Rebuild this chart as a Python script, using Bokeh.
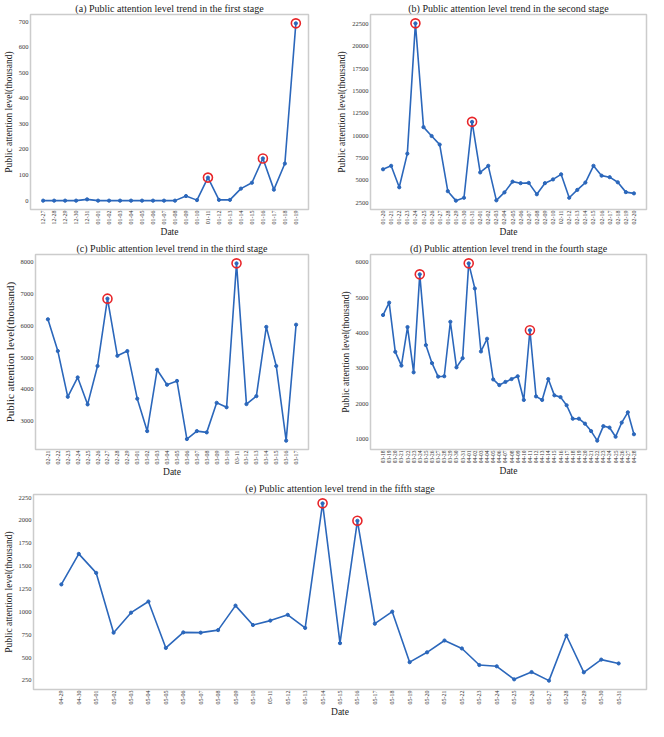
import math
from bokeh.plotting import figure
from bokeh.models import FactorRange, SingleIntervalTicker, ColumnDataSource, DataRange1d
from bokeh.layouts import column, row
from bokeh.embed import file_html
from bokeh.resources import INLINE

# ---------------- data ----------------
dates_a = ["12-27", "12-28", "12-29", "12-30", "12-31", "01-01", "01-02", "01-03",
           "01-04", "01-05", "01-06", "01-07", "01-08", "01-09", "01-10", "01-11",
           "01-12", "01-13", "01-14", "01-15", "01-16", "01-17", "01-18", "01-19"]
vals_a = [0, 0, 0, 0, 5, 0, 0, 0, 0, 0, 0, 0, 0, 18, 2, 90, 3, 3, 47, 70, 165, 43, 145, 693]
peaks_a = ["01-11", "01-16", "01-19"]

dates_b = ["01-20", "01-21", "01-22", "01-23", "01-24", "01-25", "01-26", "01-27",
           "01-28", "01-29", "01-30", "01-31", "02-01", "02-02", "02-03", "02-04",
           "02-05", "02-06", "02-07", "02-08", "02-09", "02-10", "02-11", "02-12",
           "02-13", "02-14", "02-15", "02-16", "02-17", "02-18", "02-19", "02-20"]
vals_b = [6250, 6640, 4240, 8000, 22550, 10960, 9970, 9010, 3810, 2750, 3070, 11550,
          5900, 6640, 2780, 3670, 4870, 4700, 4730, 3460, 4700, 5120, 5690, 3070,
          3950, 4770, 6640, 5540, 5370, 4800, 3700, 3560]
peaks_b = ["01-24", "01-31"]

dates_c = ["02-21", "02-22", "02-23", "02-24", "02-25", "02-26", "02-27", "02-28",
           "02-29", "03-01", "03-02", "03-03", "03-04", "03-05", "03-06", "03-07",
           "03-08", "03-09", "03-10", "03-11", "03-12", "03-13", "03-14", "03-15",
           "03-16", "03-17"]
vals_c = [6210, 5210, 3770, 4380, 3530, 4740, 6860, 5060, 5210, 3710, 2690, 4620,
          4150, 4270, 2440, 2690, 2650, 3580, 3440, 7970, 3540, 3790, 5970, 4740,
          2390, 6040]
peaks_c = ["02-27", "03-11"]

dates_d = ["03-18", "03-19", "03-20", "03-21", "03-22", "03-23", "03-24", "03-25",
           "03-26", "03-27", "03-28", "03-29", "03-30", "03-31", "04-01", "04-02",
           "04-03", "04-04", "04-05", "04-06", "04-07", "04-08", "04-09", "04-10",
           "04-11", "04-12", "04-13", "04-14", "04-15", "04-16", "04-17", "04-18",
           "04-19", "04-20", "04-21", "04-22", "04-23", "04-24", "04-25", "04-26",
           "04-27", "04-28"]
vals_d = [4510, 4860, 3470, 3080, 4170, 2890, 5660, 3660, 3150, 2770, 2780, 4320,
          3030, 3290, 5970, 5260, 3480, 3840, 2690, 2530, 2620, 2700, 2780, 2110,
          4080, 2210, 2110, 2700, 2240, 2190, 1960, 1580, 1580, 1440, 1230, 960,
          1370, 1330, 1070, 1470, 1760, 1140]
peaks_d = ["03-24", "04-01", "04-11"]

dates_e = ["04-29", "04-30", "05-01", "05-02", "05-03", "05-04", "05-05", "05-06",
           "05-07", "05-08", "05-09", "05-10", "05-11", "05-12", "05-13", "05-14",
           "05-15", "05-16", "05-17", "05-18", "05-19", "05-20", "05-21", "05-22",
           "05-23", "05-24", "05-25", "05-26", "05-27", "05-28", "05-29", "05-30",
           "05-31"]
vals_e = [1300, 1634, 1426, 772, 991, 1113, 605, 775, 772, 800, 1068, 856, 904, 967,
          824, 2187, 657, 1996, 870, 1002, 449, 557, 686, 599, 418, 404, 261, 341,
          247, 741, 338, 477, 435]
peaks_e = ["05-14", "05-16"]

titles = [
    "(a) Public attention level trend in the first stage",
    "(b) Public attention level trend in the second stage",
    "(c) Public attention level trend in the third stage",
    "(d) Public attention level trend in the fourth stage",
    "(e) Public attention level trend in the fifth stage",
]
y_label = "Public attention level(thousand)"
x_label = "Date"

# ---------------- styling ----------------
FONT = "Liberation Serif"
LINE_COLOR = "#2b67bb"
PEAK_COLOR = "#e8262a"
FRAME_COLOR = "#cccccc"


def make(title, dates, vals, peaks, interval, width, height, left, right,
         xfont="6px", ylabel_font="9.5px"):
    n = len(dates)
    pad = (0.1 * (n - 1) - 1) / n
    p = figure(
        width=width, height=height,
        x_range=FactorRange(factors=dates, range_padding=pad),
        y_range=DataRange1d(range_padding=0.1),
        output_backend="svg", toolbar_location=None,
        min_border_left=left, min_border_right=right,
        min_border_top=14, min_border_bottom=26,
        title=title,
    )
    p.title.text_font = FONT
    p.title.text_font_size = "10px"
    p.title.text_font_style = "normal"
    p.title.text_color = "#222222"
    p.title.align = "center"
    p.title.standoff = 1
    p.title.offset = 0

    src = ColumnDataSource(dict(x=dates, y=vals))
    p.line("x", "y", source=src, line_color=LINE_COLOR, line_width=1.6)
    p.scatter("x", "y", source=src, size=3.2, color=LINE_COLOR)
    lookup = dict(zip(dates, vals))
    psrc = ColumnDataSource(dict(x=peaks, y=[lookup[d] for d in peaks]))
    p.scatter("x", "y", source=psrc, size=9, fill_color=None,
              line_color=PEAK_COLOR, line_width=1.6)

    p.outline_line_color = FRAME_COLOR
    p.outline_line_width = 1.5
    p.xgrid.visible = False
    p.ygrid.visible = False

    p.yaxis.ticker = SingleIntervalTicker(interval=interval)
    for ax in (p.xaxis[0], p.yaxis[0]):
        ax.axis_line_color = None
        ax.major_tick_line_color = None
        ax.minor_tick_line_color = None
        ax.major_tick_out = 0
        ax.major_tick_in = 0
        ax.minor_tick_out = 0
        ax.minor_tick_in = 0
        ax.major_label_text_font = FONT
        ax.axis_label_text_font = FONT
        ax.axis_label_text_font_style = "normal"
        ax.major_label_text_color = "#333333"
        ax.axis_label_text_color = "#222222"
    p.yaxis.major_label_standoff = 2
    p.yaxis.axis_label_standoff = 2
    p.xaxis.major_label_standoff = 1
    p.xaxis.axis_label_standoff = 0
    p.yaxis.major_label_text_font_size = "6.5px"
    p.xaxis.major_label_text_font_size = xfont
    p.xaxis.major_label_orientation = math.pi / 2
    p.yaxis.axis_label = y_label
    p.xaxis.axis_label = x_label
    p.xaxis.axis_label_text_font_size = "9.5px"
    p.yaxis.axis_label_text_font_size = ylabel_font
    return p


pa = make(titles[0], dates_a, vals_a, peaks_a, 100, 330, 240, 30, 22)
pb = make(titles[1], dates_b, vals_b, peaks_b, 2500, 318, 240, 40, 2)
pc = make(titles[2], dates_c, vals_c, peaks_c, 1000, 330, 240, 30, 22, ylabel_font="11px")
pd_ = make(titles[3], dates_d, vals_d, peaks_d, 1000, 318, 240, 40, 2, xfont="5.5px")
pe = make(titles[4], dates_e, vals_e, peaks_e, 250, 648, 240, 30, 2)

layout = column(row(pa, pb, spacing=0), row(pc, pd_, spacing=0), pe, spacing=0)

open("out.html", "w").write(file_html(layout, INLINE))
